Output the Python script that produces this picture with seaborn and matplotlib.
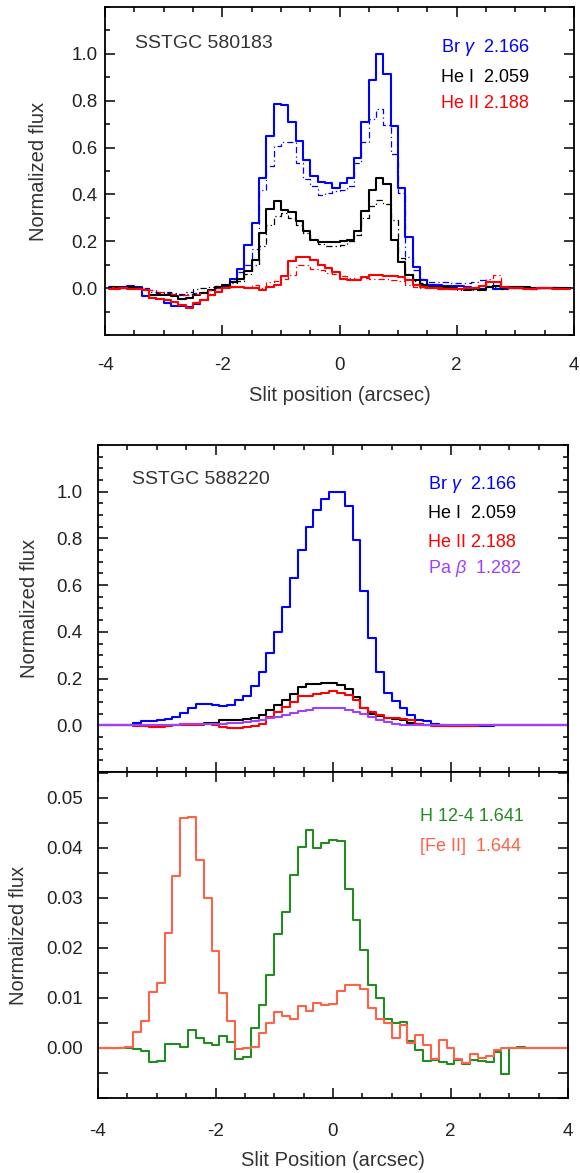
import numpy as np
import seaborn as sns
import matplotlib
matplotlib.use("Agg")
import matplotlib.pyplot as plt
from matplotlib.ticker import MultipleLocator, FormatStrFormatter, FixedLocator

# ---------------------------------------------------------------- data
# SSTGC 580183: 0.125" bins from -4 to 4 (bin centres)
pos_580183 = np.arange(64) * 0.125 - 4 + 0.0625

brg_580183 = [0.005, 0.0, 0.005, 0.01, 0.005, -0.035, -0.04, -0.045, -0.065, -0.075,
              -0.075, -0.08, -0.066, -0.05, -0.03, 0.0, 0.01, 0.037, 0.08, 0.185,
              0.278, 0.47, 0.65, 0.785, 0.78, 0.71, 0.627, 0.545, 0.479, 0.453,
              0.447, 0.429, 0.45, 0.472, 0.556, 0.708, 0.887, 1.0, 0.912, 0.691,
              0.429, 0.22, 0.09, 0.035, 0.015, 0.012, 0.01, 0.01, 0.008, 0.005,
              -0.005, -0.005, 0.005, -0.005, -0.005, 0.0, 0.0, 0.002, -0.002, 0.0,
              0.002, 0.0, 0.002, 0.0]
brg_580183_alt = [0.01, 0.005, 0.0, 0.01, 0.005, 0.0, -0.01, -0.015, -0.02, -0.025,
                  -0.03, -0.025, -0.02, -0.015, -0.01, 0.0, 0.01, 0.03, 0.07, 0.1,
                  0.165, 0.42, 0.52, 0.605, 0.625, 0.623, 0.536, 0.467, 0.436, 0.396,
                  0.407, 0.415, 0.42, 0.436, 0.533, 0.623, 0.722, 0.766, 0.697, 0.572,
                  0.407, 0.135, 0.077, 0.04, 0.027, 0.025, 0.025, 0.022, 0.02, 0.02,
                  0.025, 0.035, 0.03, 0.01, 0.005, 0.003, 0.0, 0.003, 0.0, 0.002,
                  0.0, 0.003, 0.0, 0.0]
hei_580183 = [0.0, 0.005, 0.0, 0.005, 0.0, -0.01, -0.03, -0.03, -0.03, -0.035,
              -0.045, -0.04, -0.03, -0.02, -0.01, 0.005, 0.015, 0.025, 0.04, 0.073,
              0.12, 0.235, 0.338, 0.371, 0.335, 0.324, 0.285, 0.242, 0.206, 0.196,
              0.195, 0.199, 0.2, 0.206, 0.242, 0.33, 0.42, 0.47, 0.445, 0.205,
              0.113, 0.056, 0.034, 0.013, 0.005, 0.005, 0.003, 0.0, -0.005, -0.008,
              -0.005, -0.01, 0.005, 0.01, 0.0, 0.003, 0.005, 0.003, 0.0, 0.002,
              0.0, 0.0, 0.002, 0.0]
hei_580183_alt = [0.005, 0.0, 0.005, 0.0, 0.005, -0.005, -0.015, -0.02, -0.015, -0.02,
                  -0.025, -0.015, -0.005, 0.0, 0.005, 0.01, 0.01, 0.02, 0.03, 0.06,
                  0.1, 0.18, 0.27, 0.31, 0.32, 0.3, 0.27, 0.235, 0.21, 0.19,
                  0.18, 0.18, 0.185, 0.2, 0.225, 0.3, 0.35, 0.375, 0.36, 0.29,
                  0.13, 0.06, 0.03, 0.02, 0.01, 0.005, 0.0, -0.005, -0.01, -0.005,
                  -0.01, 0.0, 0.01, 0.005, -0.005, 0.0, 0.003, 0.0, 0.002, 0.0,
                  0.0, 0.002, 0.0, 0.0]
heii_580183 = [-0.005, -0.005, 0.0, -0.005, -0.005, -0.01, -0.04, -0.045, -0.05, -0.06,
               -0.07, -0.085, -0.065, -0.05, -0.03, -0.015, 0.0, 0.005, 0.005, 0.0,
               0.0, -0.01, 0.005, 0.013, 0.05, 0.115, 0.132, 0.132, 0.118, 0.1,
               0.085, 0.07, 0.04, 0.034, 0.034, 0.049, 0.056, 0.056, 0.053, 0.05,
               0.049, 0.034, 0.013, 0.003, 0.0, 0.0, -0.002, -0.003, -0.002, 0.0,
               0.0, 0.01, 0.025, 0.025, 0.005, 0.0, 0.0, -0.002, -0.002, 0.0,
               0.0, -0.002, -0.002, -0.002]
heii_580183_alt = [0.0, 0.005, 0.005, 0.0, 0.0, -0.005, -0.01, -0.015, -0.02, -0.025,
                   -0.03, -0.03, -0.025, -0.02, -0.01, 0.0, 0.005, 0.005, 0.005, 0.005,
                   0.013, 0.0, 0.027, 0.03, 0.04, 0.056, 0.1, 0.097, 0.08, 0.077,
                   0.065, 0.06, 0.05, 0.042, 0.04, 0.042, 0.04, 0.04, 0.038, 0.035,
                   0.03, 0.015, 0.005, 0.0, 0.0, -0.002, 0.0, -0.002, 0.0, 0.0,
                   0.005, 0.015, 0.04, 0.055, 0.01, 0.0, 0.002, 0.0, -0.002, 0.0,
                   0.002, 0.0, 0.0, 0.0]

# SSTGC 588220: 2/15" bins centred on -4 ... 4
pos_588220 = np.arange(-30, 31) * (2.0 / 15.0)

brg_588220 = [0.0, 0.0, 0.0, 0.0, 0.0, 0.01, 0.019, 0.019, 0.021, 0.029,
              0.036, 0.053, 0.072, 0.09, 0.09, 0.086, 0.084, 0.086, 0.107, 0.127,
              0.167, 0.226, 0.308, 0.398, 0.508, 0.632, 0.751, 0.848, 0.923, 0.97,
              1.0, 0.997, 0.937, 0.794, 0.577, 0.375, 0.229, 0.139, 0.104, 0.072,
              0.043, 0.024, 0.019, 0.007, 0.0, -0.002, -0.004, -0.004, -0.004, -0.003,
              -0.002, 0.0, 0.0, 0.0, 0.0, 0.0, 0.0, 0.0, 0.0, 0.0, 0.0]
hei_588220 = [0.0, 0.0, 0.0, 0.0, 0.0, 0.002, 0.002, 0.002, 0.003, 0.003,
              0.003, 0.004, 0.007, 0.007, 0.011, 0.011, 0.024, 0.024, 0.021, 0.029,
              0.033, 0.043, 0.067, 0.086, 0.107, 0.133, 0.162, 0.175, 0.175, 0.182,
              0.183, 0.172, 0.157, 0.122, 0.072, 0.05, 0.039, 0.033, 0.029, 0.021,
              0.011, 0.007, 0.002, 0.0, 0.0, 0.0, 0.0, 0.0, 0.002, 0.003,
              0.003, 0.002, 0.0, 0.0, 0.0, 0.0, 0.0, 0.0, 0.0, 0.0, 0.0]
heii_588220 = [0.0, 0.0, 0.0, 0.0, 0.0, -0.004, -0.004, -0.007, -0.007, -0.004,
               0.002, 0.003, 0.003, 0.003, 0.004, 0.0, -0.007, -0.01, -0.01, -0.007,
               -0.004, 0.007, 0.036, 0.057, 0.079, 0.1, 0.124, 0.124, 0.133, 0.139,
               0.147, 0.139, 0.129, 0.107, 0.072, 0.057, 0.043, 0.033, 0.033, 0.029,
               0.024, 0.007, 0.0, -0.004, -0.004, -0.004, -0.004, -0.004, -0.003, 0.0,
               0.0, 0.002, 0.003, 0.003, 0.0, 0.0, 0.0, 0.0, 0.0, 0.0, 0.0]
pab_588220 = [0.0, 0.0, 0.0, 0.0, 0.0, 0.001, 0.001, 0.001, 0.001, 0.001,
              0.001, 0.004, 0.004, 0.004, 0.007, 0.007, 0.007, 0.01, 0.01, 0.013,
              0.019, 0.024, 0.03, 0.036, 0.043, 0.053, 0.062, 0.067, 0.073, 0.076,
              0.076, 0.073, 0.067, 0.059, 0.047, 0.036, 0.024, 0.014, 0.007, 0.003,
              0.0, 0.0, 0.0, 0.0, 0.0, 0.0, 0.0, 0.0, 0.0, 0.0,
              0.0, 0.0, 0.0, 0.0, 0.0, 0.0, 0.0, 0.0, 0.0, 0.0, 0.0]
h124_588220 = [0.0, 0.0, 0.0, 0.0, 0.0, -0.0001, -0.0005, -0.0027, -0.0026, 0.0009,
               0.0008, 0.0003, 0.0036, 0.0021, 0.0011, 0.0007, 0.0024, 0.0013, -0.0021, -0.0017,
               0.0041, 0.0087, 0.0146, 0.0228, 0.0273, 0.0346, 0.0403, 0.0436, 0.0401, 0.0411,
               0.0416, 0.0414, 0.0319, 0.0257, 0.0196, 0.0126, 0.0101, 0.0059, 0.0051, 0.0053,
               0.0015, -0.0003, -0.0025, -0.0023, -0.0027, -0.0031, -0.0023, -0.0032, -0.0024, -0.0025,
               -0.0027, -0.0007, -0.0052, 0.0, 0.0003, 0.0, 0.0, 0.0, 0.0, 0.0, 0.0]
feii_588220 = [0.0, 0.0, 0.0, 0.0, 0.0003, 0.0033, 0.0055, 0.0113, 0.0131, 0.0231,
               0.0344, 0.0461, 0.0463, 0.0376, 0.0301, 0.0195, 0.0111, 0.0055, -0.0001, 0.0,
               0.0003, 0.003, 0.0051, 0.0073, 0.0064, 0.0059, 0.0084, 0.0075, 0.0091, 0.0087,
               0.0089, 0.0115, 0.0126, 0.0127, 0.0119, 0.0081, 0.0059, 0.0051, 0.0021, 0.0047,
               0.0011, 0.0026, 0.0006, -0.0021, 0.0017, 0.0, -0.0021, -0.0029, -0.0012, -0.0019,
               -0.0016, -0.0004, 0.0, 0.0, 0.0, 0.0, 0.0, 0.0, 0.0, 0.0, 0.0]

x_ticks = [-4, -2, 0, 2, 4]
flux_ticks = [0.0, 0.2, 0.4, 0.6, 0.8, 1.0]
weak_ticks = [0.0, 0.01, 0.02, 0.03, 0.04, 0.05]

# ---------------------------------------------------------------- style
sns.set_theme(style="ticks")
plt.rcParams.update({
    "font.family": ["Liberation Sans", "DejaVu Sans"],
    "mathtext.fontset": "custom",
    "mathtext.rm": "Liberation Sans",
    "mathtext.it": "Liberation Sans:italic",
    "axes.unicode_minus": False,
    "axes.edgecolor": "black",
})

C_BLUE = "#0000ff"
C_BLACK = "#000000"
C_RED = "#ff0000"
C_PURPLE = "#a040ff"
C_GREEN = "#228b22"
C_ORANGE = "#ff6347"
TXT = "#333333"
DASHDOT = (0, (5, 2.5, 1, 2.5))

W, H = 580, 1173
fig = plt.figure(figsize=(W / 100, H / 100), dpi=100)


def frame(left, top, right, bottom):
    return fig.add_axes([left / W, 1 - bottom / H, (right - left) / W, (bottom - top) / H])


ax1 = frame(105, 7, 574, 335)
ax2 = frame(98, 445, 568, 772)
ax3 = frame(98, 772, 568, 1098)


def step(ax, x, y, color, lw=1.5, ls="-"):
    sns.lineplot(x=x, y=y, ax=ax, color=color, lw=lw, linestyle=ls,
                 drawstyle="steps-mid", estimator=None, sort=False, legend=False)


def style(ax, ypad, minor_equal=False):
    for s in ax.spines.values():
        s.set_linewidth(1.3)
        s.set_color("black")
    ax.tick_params(which="both", direction="in", top=True, right=True,
                   width=1.1, color="black", labelcolor="#222222", labelsize=13.5)
    ax.tick_params(which="major", length=7)
    ax.tick_params(which="minor", length=7 if minor_equal else 3.6)
    ax.tick_params(axis="y", which="major", pad=ypad)
    ax.set_xlim(-4, 4)
    ax.xaxis.set_major_locator(FixedLocator(x_ticks))
    ax.xaxis.set_minor_locator(MultipleLocator(0.5))
    ax.grid(False)


# ---------------------------------------------------------------- panel 1
step(ax1, pos_580183, brg_580183, C_BLUE)
step(ax1, pos_580183, brg_580183_alt, C_BLUE, lw=0.9, ls=DASHDOT)
step(ax1, pos_580183, hei_580183, C_BLACK)
step(ax1, pos_580183, hei_580183_alt, C_BLACK, lw=0.9, ls=DASHDOT)
step(ax1, pos_580183, heii_580183, C_RED)
step(ax1, pos_580183, heii_580183_alt, C_RED, lw=0.9, ls=DASHDOT)
style(ax1, ypad=5.5)
ax1.set_ylim(-0.2, 1.2)
ax1.yaxis.set_major_locator(FixedLocator(flux_ticks))
ax1.yaxis.set_major_formatter(FormatStrFormatter("%.1f"))
ax1.yaxis.set_minor_locator(MultipleLocator(0.1))
ax1.tick_params(axis="x", which="major", pad=16)
ax1.set_xlabel("Slit position (arcsec)", fontsize=14.5, color=TXT, va="center")
ax1.xaxis.set_label_coords(0.5, -0.183)
ax1.set_ylabel("Normalized flux", fontsize=14.5, color=TXT, va="center")
ax1.yaxis.set_label_coords(-0.141, 0.5)
ax1.text(0.064, 0.890, "SSTGC 580183", transform=ax1.transAxes, fontsize=14,
         color=TXT, ha="left", va="center")
for label, col, yy in [(r"Br $\gamma$  2.166", C_BLUE, 0.875),
                       ("He I  2.059", C_BLACK, 0.785),
                       ("He II 2.188", C_RED, 0.707)]:
    ax1.text(0.716, yy, label, transform=ax1.transAxes, fontsize=13,
             color=col, ha="left", va="center")

# ---------------------------------------------------------------- panel 2
step(ax2, pos_588220, brg_588220, C_BLUE)
step(ax2, pos_588220, hei_588220, C_BLACK)
step(ax2, pos_588220, heii_588220, C_RED)
step(ax2, pos_588220, pab_588220, C_PURPLE)
style(ax2, ypad=11)
ax2.set_ylim(-0.2, 1.2)
ax2.yaxis.set_major_locator(FixedLocator(flux_ticks))
ax2.yaxis.set_major_formatter(FormatStrFormatter("%.1f"))
ax2.yaxis.set_minor_locator(MultipleLocator(0.05))
ax2.tick_params(axis="x", labelbottom=False)
ax2.set_xlabel("")
ax2.set_ylabel("Normalized flux", fontsize=14.5, color=TXT, va="center")
ax2.yaxis.set_label_coords(-0.145, 0.5)
ax2.text(0.072, 0.893, "SSTGC 588220", transform=ax2.transAxes, fontsize=14,
         color=TXT, ha="left", va="center")
for label, col, yy in [(r"Br $\gamma$  2.166", C_BLUE, 0.878),
                       ("He I  2.059", C_BLACK, 0.792),
                       ("He II 2.188", C_RED, 0.703),
                       (r"Pa $\beta$  1.282", C_PURPLE, 0.621)]:
    ax2.text(0.702, yy, label, transform=ax2.transAxes, fontsize=13,
             color=col, ha="left", va="center")

# ---------------------------------------------------------------- panel 3
step(ax3, pos_588220, h124_588220, C_GREEN)
step(ax3, pos_588220, feii_588220, C_ORANGE)
style(ax3, ypad=11, minor_equal=True)
ax3.set_ylim(-0.01, 0.0552)
ax3.yaxis.set_major_locator(FixedLocator(weak_ticks))
ax3.yaxis.set_major_formatter(FormatStrFormatter("%.2f"))
ax3.yaxis.set_minor_locator(MultipleLocator(0.005))
ax3.tick_params(axis="x", which="minor", length=3.6)
ax3.tick_params(axis="x", which="major", pad=18)
ax3.set_xlabel("Slit Position (arcsec)", fontsize=14.5, color=TXT, va="center")
ax3.xaxis.set_label_coords(0.5, -0.193)
ax3.set_ylabel("Normalized flux", fontsize=14.5, color=TXT, va="center")
ax3.yaxis.set_label_coords(-0.170, 0.5)
for label, col, yy in [("H 12-4 1.641", C_GREEN, 0.865),
                       ("[Fe II]  1.644", C_ORANGE, 0.773)]:
    ax3.text(0.685, yy, label, transform=ax3.transAxes, fontsize=13,
             color=col, ha="left", va="center")

fig.savefig("out.png", dpi=100)
